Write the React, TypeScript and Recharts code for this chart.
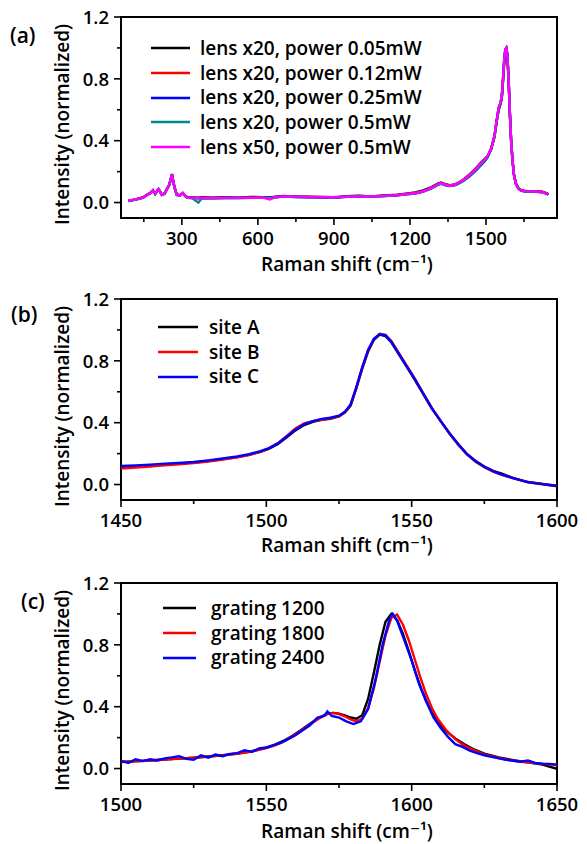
import React from 'react';
import { LineChart, Line, XAxis, YAxis, Legend, Label, ReferenceArea } from 'recharts';

const FONT = '"Open Sans", "DejaVu Sans", sans-serif';
const WEIGHT = 600;

// ---------- Panel (a) ----------
const ramanA = [90, 110, 136, 150, 162, 175, 186, 195, 208, 221, 232, 241, 250, 256, 261, 266, 271, 280, 292, 304, 315, 322, 340, 365, 380, 420, 470, 520, 570, 620, 647, 670, 700, 750, 800, 850, 897, 950, 1000, 1045, 1100, 1150, 1185, 1220, 1252, 1285, 1310, 1323, 1340, 1356, 1372, 1388, 1410, 1434, 1458, 1480, 1495, 1506, 1520, 1533, 1542, 1550, 1556, 1562, 1567, 1572, 1576, 1580, 1584, 1589, 1594, 1599, 1604, 1610, 1618, 1628, 1638, 1650, 1665, 1683, 1700, 1722, 1735, 1746];
const p005 = [0.010, 0.017, 0.028, 0.036, 0.050, 0.062, 0.078, 0.058, 0.086, 0.052, 0.060, 0.086, 0.112, 0.148, 0.180, 0.138, 0.098, 0.052, 0.047, 0.060, 0.042, 0.034, 0.033, 0.031, 0.034, 0.032, 0.034, 0.031, 0.036, 0.035, 0.033, 0.038, 0.042, 0.037, 0.038, 0.034, 0.030, 0.041, 0.044, 0.040, 0.046, 0.050, 0.058, 0.066, 0.078, 0.100, 0.122, 0.130, 0.118, 0.112, 0.115, 0.125, 0.148, 0.180, 0.218, 0.258, 0.282, 0.298, 0.345, 0.420, 0.520, 0.600, 0.630, 0.670, 0.780, 0.910, 0.975, 0.990, 0.950, 0.790, 0.575, 0.395, 0.282, 0.183, 0.123, 0.093, 0.080, 0.076, 0.074, 0.074, 0.072, 0.070, 0.062, 0.054];
const p012 = [0.011, 0.018, 0.027, 0.035, 0.049, 0.061, 0.079, 0.057, 0.087, 0.051, 0.059, 0.087, 0.114, 0.149, 0.183, 0.139, 0.099, 0.051, 0.046, 0.061, 0.041, 0.033, 0.031, 0.030, 0.031, 0.030, 0.031, 0.030, 0.032, 0.033, 0.031, 0.036, 0.040, 0.038, 0.036, 0.036, 0.034, 0.039, 0.041, 0.040, 0.044, 0.048, 0.056, 0.062, 0.074, 0.097, 0.120, 0.127, 0.116, 0.111, 0.113, 0.124, 0.146, 0.176, 0.212, 0.252, 0.276, 0.298, 0.348, 0.428, 0.528, 0.612, 0.638, 0.678, 0.795, 0.925, 0.988, 0.998, 0.955, 0.800, 0.582, 0.402, 0.281, 0.181, 0.121, 0.091, 0.079, 0.075, 0.073, 0.073, 0.071, 0.069, 0.061, 0.053];
const p025 = [0.010, 0.017, 0.026, 0.034, 0.047, 0.059, 0.078, 0.055, 0.086, 0.049, 0.057, 0.086, 0.113, 0.148, 0.182, 0.138, 0.098, 0.049, 0.044, 0.060, 0.039, 0.031, 0.029, 0.028, 0.029, 0.028, 0.029, 0.029, 0.030, 0.031, 0.030, 0.034, 0.038, 0.036, 0.034, 0.035, 0.033, 0.037, 0.039, 0.038, 0.042, 0.046, 0.053, 0.058, 0.070, 0.092, 0.114, 0.122, 0.112, 0.107, 0.109, 0.119, 0.139, 0.168, 0.203, 0.242, 0.268, 0.292, 0.345, 0.428, 0.530, 0.612, 0.640, 0.680, 0.800, 0.930, 0.990, 1.000, 0.962, 0.805, 0.585, 0.405, 0.283, 0.182, 0.121, 0.090, 0.077, 0.073, 0.071, 0.071, 0.069, 0.067, 0.059, 0.051];
const p05 = [0.011, 0.017, 0.026, 0.034, 0.047, 0.059, 0.079, 0.055, 0.087, 0.049, 0.057, 0.087, 0.114, 0.149, 0.184, 0.139, 0.099, 0.049, 0.044, 0.061, 0.039, 0.031, 0.029, 0.000, 0.029, 0.028, 0.029, 0.029, 0.030, 0.031, 0.030, 0.034, 0.038, 0.036, 0.034, 0.035, 0.031, 0.037, 0.039, 0.038, 0.042, 0.046, 0.053, 0.059, 0.071, 0.093, 0.115, 0.123, 0.113, 0.108, 0.110, 0.120, 0.141, 0.171, 0.207, 0.246, 0.272, 0.295, 0.346, 0.428, 0.529, 0.612, 0.638, 0.679, 0.798, 0.928, 0.989, 0.999, 0.960, 0.802, 0.583, 0.403, 0.282, 0.181, 0.120, 0.089, 0.077, 0.073, 0.071, 0.071, 0.069, 0.067, 0.059, 0.051];
const x50p05 = [0.012, 0.018, 0.027, 0.035, 0.048, 0.060, 0.080, 0.056, 0.088, 0.050, 0.058, 0.088, 0.115, 0.150, 0.185, 0.140, 0.100, 0.050, 0.045, 0.062, 0.040, 0.032, 0.030, 0.029, 0.030, 0.029, 0.030, 0.030, 0.031, 0.032, 0.020, 0.035, 0.040, 0.038, 0.035, 0.036, 0.034, 0.038, 0.040, 0.039, 0.043, 0.047, 0.055, 0.060, 0.072, 0.095, 0.118, 0.126, 0.115, 0.110, 0.112, 0.123, 0.145, 0.178, 0.215, 0.256, 0.280, 0.300, 0.350, 0.430, 0.530, 0.615, 0.640, 0.680, 0.800, 0.930, 0.990, 1.000, 0.960, 0.800, 0.580, 0.400, 0.280, 0.180, 0.120, 0.090, 0.078, 0.074, 0.072, 0.072, 0.070, 0.068, 0.060, 0.052];
const xMajorA = [300, 600, 900, 1200, 1500];
const xMinorA = [150, 450, 750, 1050, 1350, 1650];

// ---------- Panel (b) ----------
const ramanB = [1450, 1455, 1460, 1465, 1470, 1475, 1480, 1485, 1490, 1494, 1498, 1501, 1504, 1507, 1510, 1513, 1516, 1519, 1522, 1525, 1527, 1529, 1531, 1533, 1535, 1537, 1539, 1541, 1543, 1545, 1548, 1551, 1554, 1557, 1560, 1563, 1566, 1569, 1572, 1575, 1578, 1581, 1585, 1590, 1595, 1600];
const siteA = [0.112, 0.118, 0.124, 0.130, 0.136, 0.142, 0.152, 0.164, 0.178, 0.192, 0.212, 0.232, 0.262, 0.305, 0.350, 0.385, 0.405, 0.418, 0.425, 0.440, 0.465, 0.510, 0.625, 0.750, 0.860, 0.935, 0.970, 0.960, 0.920, 0.860, 0.770, 0.680, 0.585, 0.490, 0.410, 0.332, 0.262, 0.198, 0.152, 0.116, 0.088, 0.070, 0.042, 0.016, 0.004, -0.008];
const siteB = [0.103, 0.110, 0.117, 0.124, 0.131, 0.139, 0.149, 0.162, 0.176, 0.191, 0.213, 0.236, 0.268, 0.315, 0.362, 0.395, 0.410, 0.418, 0.428, 0.442, 0.468, 0.515, 0.630, 0.755, 0.865, 0.940, 0.975, 0.968, 0.928, 0.868, 0.778, 0.688, 0.590, 0.492, 0.410, 0.330, 0.258, 0.195, 0.148, 0.112, 0.084, 0.062, 0.040, 0.015, 0.002, -0.012];
const siteC = [0.120, 0.124, 0.129, 0.135, 0.140, 0.146, 0.156, 0.168, 0.182, 0.196, 0.216, 0.236, 0.266, 0.310, 0.355, 0.390, 0.410, 0.425, 0.432, 0.445, 0.470, 0.518, 0.632, 0.760, 0.870, 0.942, 0.972, 0.965, 0.924, 0.864, 0.772, 0.683, 0.588, 0.492, 0.410, 0.332, 0.260, 0.197, 0.150, 0.115, 0.087, 0.064, 0.041, 0.016, 0.003, -0.010];
const xMajorB = [1450, 1500, 1550, 1600];
const xMinorB = [1475, 1525, 1575];

// ---------- Panel (c) ----------
const ramanC = [1500, 1505, 1510, 1515, 1520, 1525, 1530, 1535, 1540, 1545, 1550, 1553, 1556, 1559, 1562, 1565, 1568, 1571, 1573, 1575, 1577, 1579, 1581, 1583, 1585, 1587, 1589, 1591, 1593, 1595, 1597, 1599, 1601, 1603, 1605, 1607, 1609, 1612, 1615, 1618, 1621, 1625, 1630, 1635, 1640, 1645, 1650];
const grating1200 = [0.042, 0.046, 0.052, 0.058, 0.064, 0.070, 0.078, 0.086, 0.097, 0.112, 0.135, 0.155, 0.180, 0.212, 0.250, 0.290, 0.327, 0.355, 0.360, 0.355, 0.343, 0.330, 0.322, 0.345, 0.450, 0.620, 0.800, 0.950, 1.000, 0.960, 0.870, 0.760, 0.640, 0.530, 0.435, 0.360, 0.300, 0.240, 0.195, 0.158, 0.128, 0.097, 0.072, 0.054, 0.040, 0.025, -0.002];
const grating1800 = [0.045, 0.048, 0.052, 0.058, 0.064, 0.070, 0.077, 0.085, 0.095, 0.110, 0.132, 0.150, 0.175, 0.208, 0.245, 0.285, 0.322, 0.352, 0.360, 0.352, 0.338, 0.318, 0.305, 0.322, 0.390, 0.520, 0.690, 0.860, 0.975, 0.995, 0.930, 0.830, 0.710, 0.590, 0.480, 0.390, 0.320, 0.245, 0.190, 0.150, 0.122, 0.092, 0.068, 0.050, 0.038, 0.030, 0.022];
const ramanC2400 = [1500, 1502.5, 1505, 1507.5, 1510, 1512.5, 1515, 1517.5, 1520, 1522.5, 1525, 1527.5, 1530, 1532.5, 1535, 1537.5, 1540, 1542.5, 1545, 1547.5, 1550, 1552.5, 1555, 1557.5, 1560, 1562.5, 1565, 1567.5, 1570, 1571, 1572.5, 1575, 1577.5, 1580, 1582.5, 1585, 1587.5, 1590, 1592.5, 1593.5, 1595, 1597.5, 1600, 1602.5, 1605, 1607.5, 1610, 1612.5, 1615, 1617.5, 1620, 1622.5, 1625, 1627.5, 1630, 1632.5, 1635, 1637.5, 1640, 1642.5, 1645, 1647.5, 1650];
const grating2400 = [0.050, 0.036, 0.060, 0.048, 0.060, 0.052, 0.066, 0.072, 0.080, 0.062, 0.056, 0.085, 0.070, 0.090, 0.080, 0.095, 0.100, 0.118, 0.108, 0.130, 0.136, 0.152, 0.166, 0.190, 0.215, 0.248, 0.280, 0.328, 0.342, 0.370, 0.340, 0.330, 0.305, 0.288, 0.305, 0.385, 0.570, 0.800, 0.975, 1.000, 0.955, 0.830, 0.700, 0.550, 0.435, 0.330, 0.262, 0.205, 0.158, 0.140, 0.116, 0.100, 0.086, 0.075, 0.066, 0.056, 0.050, 0.044, 0.052, 0.036, 0.032, 0.030, 0.025];
const xMajorC = [1500, 1550, 1600, 1650];
const xMinorC = [1525, 1575, 1625];

const yMajor = [0, 0.4, 0.8, 1.2];
const yMinor = [0.2, 0.6, 1.0];
const yDomain: [number, number] = [-0.1, 1.2];

const rows = (xs: number[], ys: number[]) => xs.map((x, i) => ({ x, y: ys[i] }));

type Series = { name: string; color: string; data: { x: number; y: number }[] };

const XTick = (props: any) => {
  const { x, y, payload, majors, labelDy } = props;
  const major = majors.includes(payload.value);
  return (
    <g>
      <line x1={x} x2={x} y1={y} y2={y + (major ? 7 : 4)} stroke="#000" strokeWidth={1.6} />
      {major && (
        <text x={x} y={y + labelDy} textAnchor="middle" fontSize={18.5} fontWeight={WEIGHT} fontFamily={FONT} fill="#000">
          {payload.value}
        </text>
      )}
    </g>
  );
};

const YTick = (props: any) => {
  const { x, y, payload } = props;
  const major = yMajor.some((v) => Math.abs(v - payload.value) < 1e-9);
  return (
    <g>
      <line x1={x} x2={x - (major ? 7 : 4)} y1={y} y2={y} stroke="#000" strokeWidth={1.6} />
      {major && (
        <text x={x - 12} y={y} dy="0.36em" textAnchor="end" fontSize={18.5} fontWeight={WEIGHT} fontFamily={FONT} fill="#000">
          {payload.value.toFixed(1)}
        </text>
      )}
    </g>
  );
};

const XTitle = (props: any) => {
  const { viewBox, dy } = props;
  const cx = viewBox.x + viewBox.width / 2 + 8;
  return (
    <text x={cx} y={viewBox.y + dy} textAnchor="middle" fontSize={19} fontWeight={WEIGHT} fontFamily={FONT} fill="#000">
      Raman shift (cm⁻¹)
    </text>
  );
};

const YTitle = (props: any) => {
  const { viewBox, letter } = props;
  const cy = viewBox.y + viewBox.height / 2 + 7;
  const cx = 62;
  return (
    <g>
      <text
        x={cx}
        y={cy}
        dy="0.36em"
        transform={`rotate(-90, ${cx}, ${cy})`}
        textAnchor="middle"
        fontSize={19}
        fontWeight={WEIGHT}
        fontFamily={FONT}
        fill="#000"
      >
        Intensity (normalized)
      </text>
      <text x={letter.x} y={letter.y} dy="0.36em" fontSize={21} fontWeight={WEIGHT} fontFamily={FONT} fill="#000">
        {letter.text}
      </text>
    </g>
  );
};

const LegendBox = (props: any) => {
  const { payload, rowH, lineW, gap } = props;
  return (
    <div style={{ fontFamily: FONT, fontSize: 19, fontWeight: WEIGHT, color: '#000', lineHeight: 1 }}>
      {(payload || []).map((p: any) => (
        <div key={p.value} style={{ display: 'flex', alignItems: 'center', height: rowH, whiteSpace: 'nowrap' }}>
          <svg width={lineW} height={4} style={{ display: 'block' }}>
            <line x1={0} x2={lineW} y1={2} y2={2} stroke={p.color} strokeWidth={2.6} />
          </svg>
          <span style={{ marginLeft: gap }}>{p.value}</span>
        </div>
      ))}
    </div>
  );
};

type PanelProps = {
  top: number;
  height: number;
  axisH: number;
  xDomain: [number, number];
  xMajor: number[];
  xMinor: number[];
  series: Series[];
  legend: { left: number; top: number; rowH: number; lineW: number; gap: number };
  letter: { x: number; y: number; text: string };
  titleDy: number;
};

const Panel = ({ top, height, axisH, xDomain, xMajor, xMinor, series, legend, letter, titleDy }: PanelProps) => {
  const xTicks = [...xMajor, ...xMinor].sort((a, b) => a - b);
  const yTicks = [...yMajor, ...yMinor].sort((a, b) => a - b);
  return (
    <div style={{ position: 'absolute', left: 0, top }}>
      <LineChart width={587} height={height} margin={{ top: 17, right: 30, bottom: 0, left: 0 }}>
        <XAxis
          dataKey="x"
          type="number"
          domain={xDomain}
          ticks={xTicks}
          interval={0}
          allowDataOverflow
          height={axisH}
          tickSize={0}
          tickMargin={0}
          tickLine={false}
          axisLine={false}
          tick={(p: any) => <XTick {...p} majors={xMajor} labelDy={27} />}
        >
          <Label content={(p: any) => <XTitle {...p} dy={titleDy} />} />
        </XAxis>
        <YAxis
          type="number"
          domain={yDomain}
          ticks={yTicks}
          interval={0}
          allowDataOverflow
          width={121}
          tickSize={0}
          tickMargin={0}
          tickLine={false}
          axisLine={false}
          tick={(p: any) => <YTick {...p} />}
        >
          <Label content={(p: any) => <YTitle {...p} letter={letter} />} />
        </YAxis>
        <ReferenceArea
          x1={xDomain[0]}
          x2={xDomain[1]}
          y1={yDomain[0]}
          y2={yDomain[1]}
          fill="none"
          fillOpacity={0}
          stroke="#000"
          strokeWidth={2}
          ifOverflow="visible"
        />
        {series.map((s) => (
          <Line
            key={s.name}
            data={s.data}
            dataKey="y"
            name={s.name}
            type="linear"
            stroke={s.color}
            strokeWidth={2.4}
            dot={false}
            activeDot={false}
            isAnimationActive={false}
          />
        ))}
        <Legend
          layout="vertical"
          align="center"
          verticalAlign="middle"
          wrapperStyle={{ left: legend.left, top: legend.top, width: 'auto', height: 'auto' }}
          content={(p: any) => <LegendBox {...p} rowH={legend.rowH} lineW={legend.lineW} gap={legend.gap} />}
        />
      </LineChart>
    </div>
  );
};

const seriesA: Series[] = [
  { name: 'lens x20, power 0.05mW', color: '#000000', data: rows(ramanA, p005) },
  { name: 'lens x20, power 0.12mW', color: '#ff0000', data: rows(ramanA, p012) },
  { name: 'lens x20, power 0.25mW', color: '#0000ff', data: rows(ramanA, p025) },
  { name: 'lens x20, power 0.5mW', color: '#008b8b', data: rows(ramanA, p05) },
  { name: 'lens x50, power 0.5mW', color: '#ff00ff', data: rows(ramanA, x50p05) },
];
const seriesB: Series[] = [
  { name: 'site A', color: '#000000', data: rows(ramanB, siteA) },
  { name: 'site B', color: '#ff0000', data: rows(ramanB, siteB) },
  { name: 'site C', color: '#0000ff', data: rows(ramanB, siteC) },
];
const seriesC: Series[] = [
  { name: 'grating 1200', color: '#000000', data: rows(ramanC, grating1200) },
  { name: 'grating 1800', color: '#ff0000', data: rows(ramanC, grating1800) },
  { name: 'grating 2400', color: '#0000ff', data: rows(ramanC2400, grating2400) },
];

export default function App() {
  return (
    <div style={{ position: 'absolute', left: 0, top: 0, width: 587, height: 844, background: '#fff', overflow: 'hidden' }}>
      <Panel
        top={0}
        height={290}
        axisH={72}
        xDomain={[60, 1780]}
        xMajor={xMajorA}
        xMinor={xMinorA}
        series={seriesA}
        legend={{ left: 151, top: 36, rowH: 24.7, lineW: 39, gap: 10 }}
        letter={{ x: 10, y: 35, text: '(a)' }}
        titleDy={53}
      />
      <Panel
        top={282}
        height={290}
        axisH={72}
        xDomain={[1450, 1600]}
        xMajor={xMajorB}
        xMinor={xMinorB}
        series={seriesB}
        legend={{ left: 158, top: 33, rowH: 24.7, lineW: 40, gap: 11 }}
        letter={{ x: 11, y: 32, text: '(b)' }}
        titleDy={52}
      />
      <Panel
        top={566}
        height={278}
        axisH={60}
        xDomain={[1500, 1650]}
        xMajor={xMajorC}
        xMinor={xMinorC}
        series={seriesC}
        legend={{ left: 163, top: 30, rowH: 24.7, lineW: 33, gap: 15 }}
        letter={{ x: 21, y: 35, text: '(c)' }}
        titleDy={54}
      />
    </div>
  );
}
